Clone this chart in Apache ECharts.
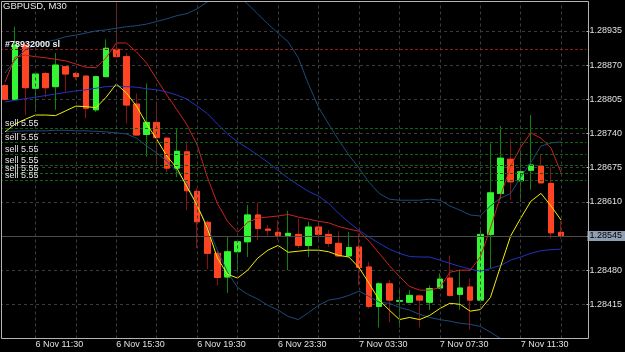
<!DOCTYPE html>
<html><head><meta charset="utf-8">
<script src="https://cdn.jsdelivr.net/npm/echarts@6/dist/echarts.min.js"></script>
<style>html,body{margin:0;padding:0;background:#000;}#c{width:625px;height:352px;}</style>
</head><body><div id="c"></div>
<script>
const categories = ['6 Nov 10:00','6 Nov 10:30','6 Nov 11:00','6 Nov 11:30','6 Nov 12:00','6 Nov 12:30','6 Nov 13:00','6 Nov 13:30','6 Nov 14:00','6 Nov 14:30','6 Nov 15:00','6 Nov 15:30','6 Nov 16:00','6 Nov 16:30','6 Nov 17:00','6 Nov 17:30','6 Nov 18:00','6 Nov 18:30','6 Nov 19:00','6 Nov 19:30','6 Nov 20:00','6 Nov 20:30','6 Nov 21:00','6 Nov 21:30','6 Nov 22:00','6 Nov 22:30','6 Nov 23:00','6 Nov 23:30','7 Nov 00:00','7 Nov 00:30','7 Nov 01:00','7 Nov 01:30','7 Nov 02:00','7 Nov 02:30','7 Nov 03:00','7 Nov 03:30','7 Nov 04:00','7 Nov 04:30','7 Nov 05:00','7 Nov 05:30','7 Nov 06:00','7 Nov 06:30','7 Nov 07:00','7 Nov 07:30','7 Nov 08:00','7 Nov 08:30','7 Nov 09:00','7 Nov 09:30','7 Nov 10:00','7 Nov 10:30','7 Nov 11:00','7 Nov 11:30','7 Nov 12:00','7 Nov 12:30','7 Nov 13:00','7 Nov 13:30','7 Nov 14:00','7 Nov 14:30'];
const xTickLabels = ['6 Nov 11:30','6 Nov 15:30','6 Nov 19:30','6 Nov 23:30','7 Nov 03:30','7 Nov 07:30','7 Nov 11:30'];
const xGridTimes = ['6 Nov 11:30','6 Nov 13:30','6 Nov 15:30','6 Nov 17:30','6 Nov 19:30','6 Nov 21:30','6 Nov 23:30','7 Nov 01:30','7 Nov 03:30','7 Nov 05:30','7 Nov 07:30','7 Nov 09:30','7 Nov 11:30','7 Nov 13:30'];
const yTicks = [1.28415,1.28480,1.28545,1.28610,1.28675,1.28740,1.28805,1.28870,1.28935];

const openPrices  = [1.28831,1.28805,1.28908,1.28826,1.28854,1.28829,1.28867,1.28854,1.28849,1.28785,1.28848,1.28900,1.28886,1.28796,1.28738,1.28761,1.28731,1.28674,1.28705,1.28630,1.28571,1.28512,1.28467,1.28515,1.28534,1.28585,1.28558,1.28552,1.28546,1.28548,1.28527,1.28562,1.28548,1.28531,1.28507,1.28524,1.28486,1.28411,1.28454,1.28421,1.28419,1.28431,1.28419,1.28446,1.28465,1.28434,1.28448,1.28423,1.28548,1.28626,1.28691,1.28650,1.28670,1.28678,1.28645,1.28552];
const closePrices = [1.28805,1.28908,1.28827,1.28853,1.28827,1.28870,1.28853,1.28848,1.28788,1.28848,1.28902,1.28886,1.28794,1.28737,1.28761,1.28732,1.28674,1.28706,1.28631,1.28572,1.28512,1.28466,1.28515,1.28534,1.28585,1.28559,1.28556,1.28546,1.28550,1.28527,1.28562,1.28548,1.28531,1.28507,1.28523,1.28485,1.28411,1.28454,1.28423,1.28422,1.28432,1.28423,1.28445,1.28463,1.28432,1.28446,1.28423,1.28548,1.28627,1.28693,1.28648,1.28667,1.28680,1.28646,1.28551,1.28545];
const lowPrices   = [1.28802,1.28803,1.28775,1.28781,1.28809,1.28785,1.28819,1.28842,1.28769,1.28781,1.28847,1.28885,1.28759,1.28737,1.28696,1.28684,1.28666,1.28657,1.28594,1.28522,1.28482,1.28451,1.28437,1.28477,1.28505,1.28537,1.28546,1.28537,1.28480,1.28522,1.28505,1.28537,1.28524,1.28505,1.28506,1.28451,1.28407,1.28371,1.28381,1.28371,1.28419,1.28371,1.28404,1.28444,1.28430,1.28405,1.28367,1.28423,1.28484,1.28615,1.28614,1.28610,1.28633,1.28645,1.28540,1.28540];
const highPrices  = [1.28834,1.28943,1.28910,1.28855,1.28857,1.28893,1.28868,1.28857,1.28851,1.28850,1.28919,1.28988,1.28893,1.28816,1.28835,1.28797,1.28733,1.28750,1.28725,1.28636,1.28575,1.28518,1.28545,1.28537,1.28604,1.28608,1.28566,1.28575,1.28593,1.28578,1.28572,1.28572,1.28556,1.28554,1.28553,1.28550,1.28496,1.28457,1.28461,1.28445,1.28442,1.28434,1.28451,1.28474,1.28508,1.28481,1.28464,1.28562,1.28721,1.28754,1.28729,1.28707,1.28775,1.28699,1.28676,1.28574];

const yellowLine = [1.28743,1.28758,1.28767,1.28775,1.28775,1.28774,1.28783,1.28792,1.28791,1.28789,1.28809,1.28834,1.28817,1.28792,1.28758,1.28729,1.28697,1.28674,1.28638,1.28603,1.28560,1.28503,1.28472,1.28465,1.28480,1.28503,1.28518,1.28527,1.28514,1.28516,1.28518,1.28518,1.28515,1.28508,1.28505,1.28485,1.28455,1.28423,1.28404,1.28386,1.28390,1.28386,1.28394,1.28407,1.28417,1.28415,1.28402,1.28405,1.28428,1.28487,1.28545,1.28579,1.28611,1.28626,1.28602,1.28575];
const redLine = [1.28838,1.28885,1.28889,1.28886,1.28884,1.28881,1.28878,1.28872,1.28866,1.28865,1.28884,1.28912,1.28912,1.28895,1.28874,1.28843,1.28813,1.28785,1.28756,1.28718,1.28657,1.28607,1.28573,1.28552,1.28571,1.28579,1.28581,1.28583,1.28586,1.28581,1.28577,1.28573,1.28570,1.28563,1.28558,1.28554,1.28535,1.28512,1.28489,1.28468,1.28449,1.28442,1.28442,1.28447,1.28476,1.28480,1.28480,1.28505,1.28560,1.28621,1.28678,1.28714,1.28741,1.28731,1.28712,1.28665];
const bandUpper = [1.28855,1.28880,1.28899,1.28908,1.28914,1.28918,1.28924,1.28927,1.28931,1.28935,1.28937,1.28940,1.28943,1.28945,1.28948,1.28953,1.28958,1.28964,1.28968,1.28977,1.28990,1.29000,1.29005,1.29004,1.28986,1.28967,1.28948,1.28931,1.28914,1.28884,1.28834,1.28790,1.28758,1.28727,1.28699,1.28674,1.28647,1.28626,1.28615,1.28613,1.28613,1.28613,1.28615,1.28613,1.28602,1.28594,1.28585,1.28583,1.28602,1.28617,1.28626,1.28657,1.28685,1.28716,1.28722,1.28724];
const bandMiddle = [1.28800,1.28803,1.28806,1.28809,1.28812,1.28815,1.28818,1.28821,1.28823,1.28826,1.28829,1.28830,1.28829,1.28828,1.28825,1.28823,1.28819,1.28813,1.28805,1.28792,1.28778,1.28758,1.28739,1.28724,1.28712,1.28699,1.28685,1.28670,1.28655,1.28642,1.28630,1.28621,1.28607,1.28588,1.28571,1.28556,1.28543,1.28531,1.28520,1.28512,1.28506,1.28505,1.28505,1.28499,1.28493,1.28487,1.28482,1.28478,1.28483,1.28489,1.28499,1.28505,1.28512,1.28517,1.28519,1.28520];
const bandLower = [1.28744,1.28744,1.28745,1.28745,1.28745,1.28746,1.28746,1.28745,1.28745,1.28744,1.28743,1.28741,1.28739,1.28731,1.28716,1.28703,1.28687,1.28668,1.28643,1.28603,1.28563,1.28518,1.28476,1.28447,1.28434,1.28425,1.28413,1.28404,1.28392,1.28386,1.28399,1.28413,1.28423,1.28426,1.28432,1.28440,1.28430,1.28419,1.28417,1.28409,1.28404,1.28396,1.28390,1.28386,1.28383,1.28379,1.28377,1.28373,1.28362,1.28350,1.28337,1.28327,1.28320,1.28316,1.28316,1.28316];

const sellLevels = [1.28750,1.28724,1.28701,1.28680,1.28665,1.28651];
const sellLabels = ['sell 5.55','sell 5.55','sell 5.55','sell 5.55','sell 5.55','sell 5.55'];
const slLevel = 1.28900;
const slLabel = '#78932000 sl';
const bidPrice = 1.28545;
const chartTitle = 'GBPUSD, M30';

const FONT = 'Liberation Sans';
const wickData = openPrices.map((o, i) => [o, closePrices[i], lowPrices[i], highPrices[i]]);
const bodyData = openPrices.map((o, i) => [o, closePrices[i], Math.min(o, closePrices[i]), Math.max(o, closePrices[i])]);

const hLines = [];
sellLevels.forEach((v, i) => hLines.push({
  yAxis: v,
  lineStyle: {color: '#0d640d', type: [3, 2], width: 1},
  label: {show: true, position: 'insideStartTop', formatter: sellLabels[i], color: '#e6e6e6', fontSize: 9, fontFamily: FONT, distance: [5, 0]}
}));
hLines.push({
  yAxis: slLevel,
  lineStyle: {color: '#8e1c1c', type: [3, 2], width: 1},
  label: {show: true, position: 'insideStartTop', formatter: slLabel, color: '#f0f0f0', fontSize: 9, fontWeight: 'bold', fontFamily: FONT, distance: [5, 0]}
});
const vLines = xGridTimes.map(t => ({xAxis: t}));

const chart = echarts.init(document.getElementById('c'));
chart.setOption({
  backgroundColor: '#000',
  animation: false,
  textStyle: {fontFamily: FONT},
  title: {text: chartTitle, left: 3, top: 1, padding: 0, textStyle: {color: '#e8e8e8', fontSize: 9.5, fontWeight: 'normal', fontFamily: FONT}},
  grid: {left: -3.6, right: 37.2, top: 2, bottom: 13.5, show: false},
  xAxis: {
    type: 'category', data: categories, boundaryGap: true,
    axisLine: {show: false}, axisTick: {show: false}, splitLine: {show: false},
    axisLabel: {interval: (idx, val) => xTickLabels.indexOf(val) >= 0, align: 'left', color: '#e0e0e0', fontSize: 9, fontFamily: FONT, margin: 2}
  },
  yAxis: {
    type: 'value', position: 'right', min: 1.2835, max: 1.2899, scale: true,
    axisLine: {show: false},
    axisTick: {show: true, customValues: yTicks, length: 3, lineStyle: {color: '#b8b8b8'}},
    axisLabel: {customValues: yTicks, formatter: v => v.toFixed(5), color: '#e0e0e0', fontSize: 9, fontFamily: FONT, margin: 3},
    splitLine: {show: true, lineStyle: {color: '#3c3c3c', type: [3, 3], width: 1}}
  },
  graphic: [
    {type: 'rect', z: 99, silent: true, shape: {x: 0, y: 0, width: 1.5, height: 340}, style: {fill: '#000'}},
    {type: 'rect', z: 100, silent: true, shape: {x: 1.5, y: 1.5, width: 587, height: 337}, style: {fill: 'none', stroke: '#b4b4b4', lineWidth: 1}}
  ],
  series: [
    {type: 'line', data: [], silent: true, markLine: {symbol: 'none', silent: true, animation: false, precision: 6, label: {show: false}, lineStyle: {color: '#3c3c3c', type: [3, 3], width: 1}, data: vLines}},
    {type: 'line', data: [], silent: true, markLine: {symbol: 'none', silent: true, animation: false, precision: 6, emphasis: {disabled: true}, data: hLines}},
    {type: 'line', data: [], silent: true, markLine: {symbol: 'none', silent: true, animation: false, precision: 6, emphasis: {disabled: true},
      lineStyle: {color: '#4a4a4a', type: 'solid', width: 1, opacity: 1},
      label: {show: true, position: 'end', formatter: bidPrice.toFixed(5), color: '#000', backgroundColor: '#8e9fb3', fontSize: 9, fontFamily: FONT, padding: [1, 3, 0, 2], distance: 1},
      data: [{yAxis: bidPrice}]}},
    {type: 'candlestick', data: wickData, barWidth: 6, itemStyle: {color: '#33f533', color0: '#ff4424', borderColor: '#0c860c', borderColor0: '#8c1010', borderWidth: 1}},
    {type: 'candlestick', data: bodyData, barWidth: 6, itemStyle: {color: '#33f533', color0: '#ff4424', borderColor: '#33f533', borderColor0: '#ff4424', borderWidth: 1}},
    {type: 'line', data: bandUpper, showSymbol: false, lineStyle: {color: '#1c4a7c', width: 1}},
    {type: 'line', data: bandLower, showSymbol: false, lineStyle: {color: '#1c4a7c', width: 1}},
    {type: 'line', data: bandMiddle, showSymbol: false, lineStyle: {color: '#2233c0', width: 1}},
    {type: 'line', data: redLine, showSymbol: false, lineStyle: {color: '#cc2222', width: 1}},
    {type: 'line', data: yellowLine, showSymbol: false, lineStyle: {color: '#f0f000', width: 1}}
  ]
});
</script>
</body></html>
